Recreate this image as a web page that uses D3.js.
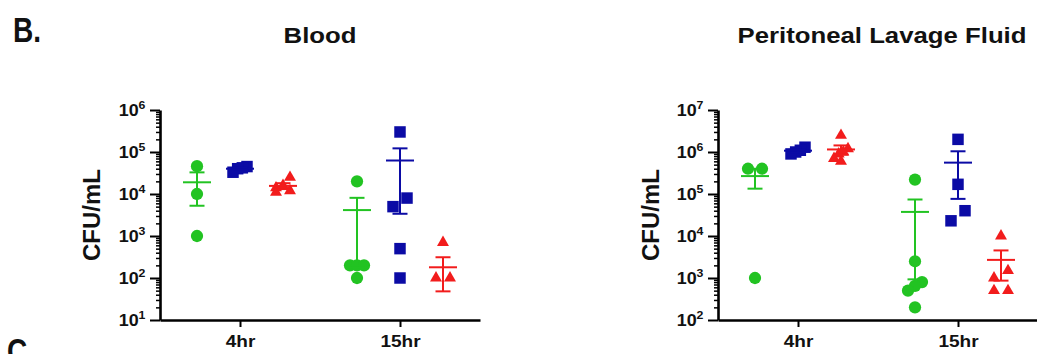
<!DOCTYPE html>
<html>
<head>
<meta charset="utf-8">
<script src="https://cdn.jsdelivr.net/npm/d3@7"></script>
<style>
  body { margin: 0; background: #fff; }
  svg { display: block; }
  text { font-family: "Liberation Sans", Arial, sans-serif; font-weight: bold; fill: #111; }
</style>
</head>
<body>
<svg id="chart" width="1037" height="354"></svg>
<script>
const times = ['4hr', '15hr'];
const groups = ['green', 'blue', 'red'];

// CFU/mL per group, [green, blue, red], one array per time point
const blood4hr = [[46000, 10000, 1000], [45000, 42000, 40000, 33000], [25000, 16000, 14000, 12000, 11000]];
// red 15hr: two undetectable samples (0) count in mean, not plotted on the log axis
const blood15hr = [[20000, 200, 200, 200, 100], [300000, 8000, 5000, 500, 100], [700, 100, 100, 0, 0]];
const plf4hr = [[400000, 400000, 1000], [1300000, 1100000, 1000000, 900000], [2500000, 1200000, 1000000, 900000, 700000, 600000]];
const plf15hr = [[220000, 2500, 800, 650, 500, 200], [2000000, 170000, 40000, 23000], [10000, 1500, 1000, 500, 500]];

const bloodTicks = [1e1, 1e2, 1e3, 1e4, 1e5, 1e6];
const plfTicks = [1e2, 1e3, 1e4, 1e5, 1e6, 1e7];

const colors = { green: '#22c322', blue: '#0b0ba5', red: '#f21c1c' };
const shapes = { green: d3.symbolCircle, blue: d3.symbolSquare, red: d3.symbolTriangle };
const sizes = { green: 118, blue: 132, red: 62 };

const svg = d3.select('#chart');
const stretch = 'scale(1.12,1)';

// panel letters
svg.append('text').attr('transform', 'translate(13,42) scale(0.78,1)')
    .attr('font-size', 36).text('B.');
svg.append('text').attr('transform', 'translate(7,363) scale(0.78,1)')
    .attr('font-size', 36).text('C.');

// spread points that sit on about the same y, like a scatter dot plot
const spread = (vals, y) => {
  const pts = vals.filter(v => v > 0).map(v => ({ v, y: y(v) })).sort((a, b) => a.y - b.y);
  const rows = [];
  pts.forEach(p => {
    const last = rows[rows.length - 1];
    if (last && p.y - last[0].y < 11) last.push(p); else rows.push([p]);
  });
  rows.forEach(r => {
    r.sort((a, b) => a.v - b.v);
    r.forEach((p, i) => p.dx = r.length === 1 ? 0 : -7 + i * 14 / (r.length - 1));
  });
  return pts;
};

const panel = (x0, title, titleX, yTitleX, data, ticks) => {
  const g = svg.append('g').attr('transform', `translate(${x0},0)`);

  const xScale = d3.scalePoint().domain(times).range([0, 320]).padding(0.5);
  const sub = d3.scalePoint().domain(groups).range([-43, 43]);
  const yScale = d3.scaleLog().domain(d3.extent(ticks)).range([320, 110]);

  const minors = [];
  ticks.slice(0, -1).forEach(t => d3.range(2, 10).forEach(m => minors.push(t * m)));

  // minor ticks
  g.append('g').call(d3.axisLeft(yScale).tickValues(minors).tickSize(4).tickSizeOuter(0).tickFormat(''))
    .call(a => a.select('.domain').remove())
    .call(a => a.selectAll('line').attr('stroke', '#000').attr('stroke-width', 1.5));

  // major ticks and labels
  g.append('g')
    .call(d3.axisLeft(yScale).tickValues(ticks).tickSize(10).tickSizeOuter(0).tickPadding(3).tickFormat(''))
    .attr('font-size', 16).attr('font-family', null)
    .call(a => a.select('.domain').attr('stroke', '#000').attr('stroke-width', 2.6))
    .call(a => a.selectAll('line').attr('stroke', '#000').attr('stroke-width', 2))
    .call(a => a.selectAll('.tick text')
      .attr('transform', stretch)
      .each(function (d) {
        const t = d3.select(this);
        t.append('tspan').text('10');
        t.append('tspan').attr('dy', -7).attr('font-size', 11).text(Math.round(Math.log10(d)));
      }));

  g.append('g')
    .attr('transform', 'translate(0,320)')
    .call(d3.axisBottom(xScale).tickSize(7).tickSizeOuter(0).tickPadding(8))
    .attr('font-size', 17).attr('font-family', null)
    .call(a => a.select('.domain').attr('stroke', '#000').attr('stroke-width', 2.6))
    .call(a => a.selectAll('line').attr('stroke', '#000').attr('stroke-width', 2))
    .call(a => a.selectAll('.tick text').attr('transform', stretch));

  svg.append('text')
    .attr('transform', `translate(${titleX},43) ${stretch}`)
    .attr('text-anchor', 'middle').attr('font-size', 23).text(title);

  svg.append('text')
    .attr('transform', `translate(${yTitleX},215) rotate(-90)`)
    .attr('text-anchor', 'middle').attr('font-size', 24).text('CFU/mL');

  times.forEach((t, ti) => {
    groups.forEach((grp, gi) => {
      const vals = data[ti][gi];
      const cx = xScale(t) + sub(grp);
      const pts = spread(vals, yScale);

      g.append('g').selectAll('path')
        .data(pts)
        .enter()
        .append('path')
        .attr('d', d3.symbol().type(shapes[grp]).size(sizes[grp]))
        .attr('transform', d => `translate(${cx + d.dx},${yScale(d.v)})`)
        .attr('fill', colors[grp]);

      const mean = d3.mean(vals);
      const sem = d3.deviation(vals) / Math.sqrt(vals.length);
      const lo = yScale(mean - sem), hi = yScale(mean + sem), my = yScale(mean);
      const bar = g.append('g').attr('stroke', colors[grp]).attr('stroke-width', 2);
      bar.append('line').attr('x1', cx - 14).attr('x2', cx + 14).attr('y1', my).attr('y2', my);
      bar.append('line').attr('x1', cx).attr('x2', cx).attr('y1', lo).attr('y2', hi);
      [lo, hi].forEach(yy => bar.append('line')
        .attr('x1', cx - 7.5).attr('x2', cx + 7.5).attr('y1', yy).attr('y2', yy));
    });
  });
};

panel(160, 'Blood', 320, 100, [blood4hr, blood15hr], bloodTicks);
panel(718, 'Peritoneal Lavage Fluid', 882, 659, [plf4hr, plf15hr], plfTicks);
</script>
</body>
</html>
